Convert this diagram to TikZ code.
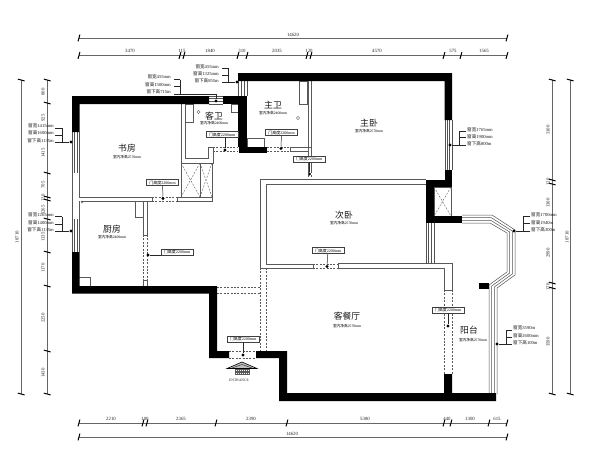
\documentclass[tikz,border=0pt]{standalone}
\usepackage{fontspec}
\setmainfont{Liberation Serif}
\newfontfamily\cjkf{Noto Sans CJK SC}
\tikzset{
  wallblk/.style={fill=black,draw=none},
  thinw/.style={line width=.6pt,draw=black!65},
  winl/.style={line width=.5pt,draw=black!68},
  dimln/.style={line width=.65pt,draw=black!60},
  tickm/.style={line width=1pt,draw=black},
  lead/.style={line width=.5pt,draw=black!85},
  doorln/.style={line width=.55pt,draw=black!65,dash pattern=on 2pt off 1.4pt},
  dotm/.style={circle,fill=black,inner sep=0pt,minimum size=3.4pt},
  dimt/.style={font=\fontsize{4.8}{5}\selectfont,text=black!85,inner sep=0pt},
  roomt/.style={font=\cjkf\fontsize{8.8}{9}\selectfont,text=black!90,inner sep=0pt},
  subt/.style={font=\fontsize{3.7}{4}\selectfont,text=black,inner sep=0pt},
  notet/.style={font=\fontsize{4.6}{5}\selectfont,text=black!90,inner sep=0pt},
  doorbox/.style={draw=black!75,line width=.5pt,fill=white,font=\fontsize{4}{4}\selectfont,inner sep=0pt,minimum width=32pt,minimum height=6.4pt},
}
\newcommand{\cjt}[2]{{\cjkf #1}#2}
\newcommand{\doorlab}{\cjt{门高度}{2200mm}}
\newcommand{\tickh}[2]{\draw[tickm] (#1-1,#2+3.4) -- (#1+.9,#2-3.4);}
\newcommand{\tickv}[2]{\draw[tickm] (#1-3.2,#2-.9) -- (#1+3.6,#2+.9);}
\begin{document}
\begin{tikzpicture}[x=1pt,y=-1pt]
\useasboundingbox (0,0) rectangle (600,456);
\fill[white] (0,0) rectangle (600,456);

%% ---- dimension lines
\draw[dimln] (79,38) -- (507,38);
\draw[dimln] (79,55.5) -- (507,55.5);
\draw[dimln] (79,423) -- (507,423);
\draw[dimln] (79,437) -- (507,437);
\draw[dimln] (21,80) -- (21,394);
\draw[dimln] (47,80) -- (47,394);
\draw[dimln] (552,80) -- (552,394);
\draw[dimln] (570,80) -- (570,394);
\foreach \x in {79,180,184,238,247,307,311,444,461,507} {\tickh{\x}{55.5}}
\foreach \x in {79,507} {\tickh{\x}{38}\tickh{\x}{437}}
\foreach \x in {79,143,147,216,287,444,451,489,507} {\tickh{\x}{423}}
\foreach \y in {80,394} {\tickv{21}{\y}\tickv{47}{\y}\tickv{552}{\y}\tickv{570}{\y}}
\foreach \y in {103,173,197,200,219,252,286,351} {\tickv{47}{\y}}
\foreach \y in {180,184,283,288} {\tickv{552}{\y}}
\foreach \x/\t in {130/3470,182/115,210/1840,242/310,277/2035,309/120,377/4570,453/575,484/1565} {\node[dimt] at (\x,51) {\t};}
\node[dimt] at (293,35) {14620};
\foreach \x/\t in {111/2210,145/100,181/2365,251/2390,365/5380,447/440,470/1300,497/615} {\node[dimt] at (\x,419) {\t};}
\node[dimt] at (292,433.5) {14620};
\foreach \y/\t in {92/800,118/925,153/1415,185/705,198/120,210/1265,237/1135,268/1170,318/2250,373/1430} {\node[dimt,rotate=90] at (43,\y) {\t};}
\foreach \y/\t in {130/3100,182/120,203/1300,253/2990,287/170,342/3590} {\node[dimt,rotate=90] at (548,\y) {\t};}
\node[dimt,rotate=90] at (17,237) {18710};
\node[dimt,rotate=90] at (567,237) {18710};

%% ---- thin interior walls
\draw[thinw] (79,197) -- (152,197) (81,201) -- (152,201) (152,197) -- (152,201);
\draw[thinw] (177,197) rectangle (212,201);
\draw[thinw] (181,104) -- (181,163) (185,104) -- (185,158) -- (208,158) -- (208,147) -- (213,147) -- (213,163) -- (181,163);
\draw[thinw] (185,104) rectangle (193,122);
\draw[thinw] (231,104) rectangle (238,112);
\draw[thinw] (181,163) rectangle (212,197) (200,163) -- (200,197);
\draw[thinw] (247,138) rectangle (264,147);
\draw[thinw] (290,147) -- (311,147) (290,151) -- (308,151) (290,147) -- (290,151);
\draw[thinw] (308,81) -- (308,171) (311,81) -- (311,171);
\draw[thinw] (299,81) rectangle (307,104);
\draw[thinw] (260,268) -- (260,179) -- (426,179);
\draw[thinw] (266,264) -- (266,184) -- (426,184);
\draw[thinw] (260,268) -- (313,268) (266,264) -- (313,264) (313,264) -- (313,268);
\draw[thinw] (338,264) -- (338,268) (338,263.5) -- (452,263.5) -- (452,290) (338,268) -- (444,268) -- (444,290) (444,290) -- (452,290);
\draw[thinw] (143,201) -- (143,235) (147,201) -- (147,235) (143,235) -- (147,235);
\draw[thinw] (143,280) -- (147,280) (143,280) -- (143,286) (147,280) -- (147,286);
\draw[thinw] (135,201) rectangle (143,217);
\draw[thinw] (79,277) -| (90,286);
\draw[thinw,line width=.4pt] (198.5,112) circle (1.6);
\draw[thinw,line width=.4pt] (298,118) circle (1.6);
\draw[thinw,line width=.4pt] (82,202) circle (1.2);

%% ---- closets and duct
\draw[doorln,line width=.4pt] (181,163) -- (200,197) (200,163) -- (181,197) (200,163) -- (212,197) (212,163) -- (200,197);
\draw[thinw] (434,187) rectangle (451,216);
\draw[doorln,line width=.4pt] (434,187) -- (451,216) (451,187) -- (434,216);

%% ---- doors
\draw[doorln] (152,197) -- (177,197) (152,201) -- (177,201);
\draw[doorln] (213,147) -- (238,147) (213,151) -- (238,151);
\draw[doorln] (267,147) -- (290,147) (267,151) -- (290,151);
\draw[doorln] (308,151) -- (308,178) (311,151) -- (311,178);
\draw[doorln] (143,235) -- (143,280) (147,235) -- (147,280);
\draw[doorln] (313,264) -- (338,264) (313,268) -- (338,268);
\draw[doorln] (444,290) -- (444,374) (452,290) -- (452,374);
\draw[doorln] (229,351) -- (256,351) (229,358) -- (256,358);
\draw[doorln] (260,268) -- (260,351) (266,268) -- (266,351);
\draw[doorln] (217,287) -- (260,287) (217,293) -- (260,293);

%% ---- window lines
\foreach \x in {72,74.5,77,79.5} {\draw[winl] (\x,132) -- (\x,173); \draw[winl] (\x,219) -- (\x,252);}
\draw[thinw] (72,173) -- (72,219) (79.5,173) -- (79.5,197) (79.5,201) -- (79.5,219);
\foreach \y in {96,98.7,101.3,104} {\draw[winl] (209,\y) -- (223,\y);}
\foreach \x in {238,241,244,247} {\draw[winl] (\x,81) -- (\x,96);}
\foreach \x in {445,447.3,449.7,452} {\draw[winl] (\x,120) -- (\x,170);}
\foreach \x in {426,428.7,431.3,434} {\draw[winl] (\x,223) -- (\x,263.5);}
\draw[winl] (462,223) -- (490,223) -- (507,233) -- (507,272) -- (489,285) -- (489,394);
\draw[winl] (462,220.3) -- (490.7,220.3) -- (509.7,232) -- (509.7,273) -- (491.7,286) -- (491.7,394);
\draw[winl] (462,217.7) -- (491.3,217.7) -- (512.3,231) -- (512.3,274) -- (494.3,287) -- (494.3,394);
\draw[winl] (462,215) -- (492,215) -- (515,230) -- (515,275) -- (497,288) -- (497,394);

%% ---- black walls
\fill[wallblk] (72,96) -- (209,96) -- (209,104) -- (79.5,104) -- (79.5,132) -- (72,132) -- cycle;
\fill[wallblk] (223,96) rectangle (238,104);
\fill[wallblk] (238,96) rectangle (247,147);
\fill[wallblk] (239,147) rectangle (267,153);
\fill[wallblk] (238,73) -- (452,73) -- (452,120) -- (444.5,120) -- (444.5,81) -- (238,81) -- cycle;
\fill[wallblk] (445,170) rectangle (452,187);
\fill[wallblk] (426,180) rectangle (434,223);
\fill[wallblk] (426,180) rectangle (452,187);
\fill[wallblk] (426,216) rectangle (462,223);
\fill[wallblk] (479,283) rectangle (489,289);
\fill[wallblk] (72,252) -- (79.5,252) -- (79.5,286) -- (217,286) -- (217,351) -- (229,351) -- (229,358) -- (209,358) -- (209,293.5) -- (72,293.5) -- cycle;
\fill[wallblk] (256,351) -- (287,351) -- (287,393) -- (444,393) -- (444,374) -- (452,374) -- (452,393) -- (496,393) -- (496,401) -- (279,401) -- (279,358) -- (256,358) -- cycle;

%% ---- room labels
\foreach \n/\x/\y/\t/\sx/\sy/\s in {
  zw/273/105/主卫/273/113/2400mm,
  kw/214/116/客卫/214/123.5/2400mm,
  zwo/369/123/主卧/369/131/2570mm,
  sf/127/148/书房/127/157/2570mm,
  cf/112/229/厨房/112/237.5/2400mm,
  cw/344/215/次卧/344/223/2570mm,
  kct/347/316/客餐厅/347/326/2570mm,
  yt/469/330/阳台/473/340/2570mm} {
  \node[roomt] (r\n) at (\x,\y) {\t};
  \node[subt] (s\n) at (\sx,\sy) {\cjt{室内净高}{\s}};
}

%% ---- door labels with leaders
\node[doorbox] (d1) at (162.5,182.5) {\doorlab};
\node[dotm] (p1) at (163,198.5) {}; \draw[lead] (d1) -- (p1);
\node[doorbox] (d2) at (222,134.5) {\doorlab};
\node[dotm] (p2) at (225,150) {}; \draw[lead] (d2.south -| p2) -- (p2);
\node[doorbox] (d3) at (281.5,132.5) {\doorlab};
\node[dotm] (p3) at (281,148.5) {}; \draw[lead] (d3) -- (p3);
\node[doorbox] (d4) at (309,159) {\doorlab};
\node[dotm] (p4) at (309.5,174) {}; \draw[lead] (d4.south -| p4) -- (p4);
\node[doorbox] (d5) at (177,252) {\doorlab};
\node[dotm] (p5) at (148,255) {}; \draw[lead] (p5) -- (d5.west |- p5);
\node[doorbox] (d6) at (328,250.5) {\doorlab};
\node[dotm] (p6) at (327,266.5) {}; \draw[lead] (d6) -- (p6);
\node[doorbox] (d7) at (448,310) {\doorlab};
\node[dotm] (p7) at (448,326) {}; \draw[lead] (d7) -- (p7);
\node[doorbox] (d8) at (243,339) {\doorlab};
\node[dotm] (p8) at (243,355) {}; \draw[lead] (d8) -- (p8);

%% ---- window notes
\node[notet,anchor=east] at (171,77) {\cjt{窗宽}{455mm}};
\node[notet,anchor=east] at (171,84.5) {\cjt{窗高}{1500mm}};
\node[notet,anchor=east] at (171,91.5) {\cjt{窗下高}{715m}};
\node[dotm] (w1) at (216,101) {};
\draw[lead] (174,79.5) -- (180,79.5) (174,86) -- (180,86) (180,79.5) -- (180,94) (174,94) -- (216,94) -- (w1);
\node[notet,anchor=east] at (219,66.5) {\cjt{窗宽}{455mm}};
\node[notet,anchor=east] at (219,73.5) {\cjt{窗高}{1325mm}};
\node[notet,anchor=east] at (219,81) {\cjt{窗下高}{855m}};
\node[dotm] (w2) at (237,82) {};
\draw[lead] (222,68) -- (228,68) (222,75) -- (228,75) (228,68) -- (228,82) (222,82) -- (w2);
\node[notet,anchor=east] at (54,126) {\cjt{窗宽}{1415mm}};
\node[notet,anchor=east] at (54,133) {\cjt{窗高}{1600mm}};
\node[notet,anchor=east] at (54,140.5) {\cjt{窗下高}{1135m}};
\node[dotm] (w3) at (71,142) {};
\draw[lead] (55,128) -- (62,128) (55,135) -- (62,135) (62,128) -- (62,142) (55,142) -- (w3);
\node[notet,anchor=east] at (54,215) {\cjt{窗宽}{1265mm}};
\node[notet,anchor=east] at (54,222.5) {\cjt{窗高}{1400mm}};
\node[notet,anchor=east] at (54,229.5) {\cjt{窗下高}{1135m}};
\node[dotm] (w4) at (71,231) {};
\draw[lead] (55,216.5) -- (62,216.5) (55,224) -- (62,224) (62,216.5) -- (62,231) (55,231) -- (w4);
\node[notet,anchor=west] at (467,130) {\cjt{窗宽}{1765mm}};
\node[notet,anchor=west] at (467,137) {\cjt{窗高}{1900mm}};
\node[notet,anchor=west] at (467,144) {\cjt{窗下高}{800m}};
\node[dotm] (w5) at (450,145) {};
\draw[lead] (466,131) -- (459,131) (466,137.5) -- (459,137.5) (459,131) -- (459,145) (466,145) -- (w5);
\node[notet,anchor=west] at (531,215) {\cjt{窗宽}{1700mm}};
\node[notet,anchor=west] at (531,222.5) {\cjt{窗高}{1940m}};
\node[notet,anchor=west] at (531,230) {\cjt{窗下高}{300m}};
\node[dotm] (w6) at (514,231) {};
\draw[lead] (530,216) -- (523,216) (530,223) -- (523,223) (523,216) -- (523,231) (530,231) -- (w6);
\node[notet,anchor=west] at (513,328) {\cjt{窗宽}{3590m}};
\node[notet,anchor=west] at (513,335.5) {\cjt{窗高}{2600mm}};
\node[notet,anchor=west] at (513,342.5) {\cjt{窗下高}{100m}};
\node[dotm] (w7) at (497,344) {};
\draw[lead] (512,330) -- (506,330) (512,337) -- (506,337) (506,330) -- (506,344) (512,344) -- (w7);

%% ---- entrance mark
\fill[black!65] (235,367) rectangle (250,375);
\draw[black,line width=.6pt,fill=black!25] (227,368.5) -- (242,362) -- (257,368.5) -- cycle;
\draw[black!80,line width=.5pt] (232,368) -- (242,364.5) -- (252,368);
\draw[white,line width=.4pt,dash pattern=on 1pt off 1pt] (236,370.5) -- (249,370.5) (236,373) -- (249,373);
\node[font=\fontsize{3.7}{4}\selectfont,text=black!85,inner sep=0pt] (ent) at (239,380) {ENTRANCE};
\end{tikzpicture}
\end{document}
